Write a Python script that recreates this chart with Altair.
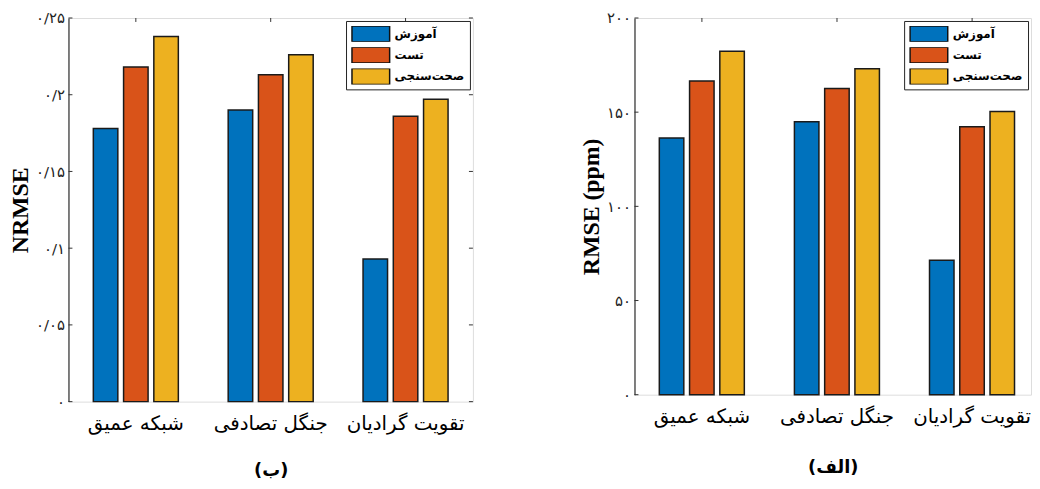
import altair as alt
import pandas as pd

models = ["شبکه عمیق", "جنگل تصادفی", "تقویت گرادیان"]
sets = ["آموزش", "تست", "صحت‌سنجی"]
colors = ["#0072BD", "#D95319", "#EDB120"]

nrmse_train = [0.178, 0.190, 0.093]
nrmse_test = [0.218, 0.213, 0.186]
nrmse_val = [0.238, 0.226, 0.197]
nrmse_ticks = [0, 0.05, 0.1, 0.15, 0.2, 0.25]

rmse_train = [136.3, 144.9, 71.4]
rmse_test = [166.6, 162.6, 142.3]
rmse_val = [182.4, 173.0, 150.3]
rmse_ticks = [0, 50, 100, 150, 200]


def make_df(train, test, val):
    rows = []
    for i, m in enumerate(models):
        for s, vals in zip(sets, [train, test, val]):
            rows.append({"model": m, "set": s, "value": vals[i]})
    return pd.DataFrame(rows)


persian_digits = "۰۱۲۳۴۵۶۷۸۹"
label_expr = "datum.label"
for d in range(10):
    label_expr = f"replace({label_expr}, regexp('{d}', 'g'), '{persian_digits[d]}')"
label_expr = f"replace({label_expr}, '.', '/')"

FRAME = "#333333"
TICK = 4


def panel(df, domain, ticks, fmt, ytitle, caption, width, height, xscale,
          cap_pad, right_ticks=True):
    ys = alt.Scale(domain=domain, nice=False, zero=True)
    bars = alt.Chart(df).mark_bar(stroke="#1a1a1a", strokeWidth=1.5).encode(
        x=alt.X(
            "model:N", sort=models, scale=xscale,
            axis=alt.Axis(
                title=caption, orient="bottom", labelAngle=0,
                labelFont="DejaVu Sans", labelFontSize=20, labelColor="black",
                labelPadding=12, labelLimit=300, ticks=False, domain=False,
                titleFont="DejaVu Sans", titleFontSize=18, titleFontWeight="bold",
                titleColor="black", titlePadding=cap_pad,
            ),
        ),
        xOffset=alt.XOffset("set:N", sort=sets,
                            scale=alt.Scale(paddingInner=0.19, paddingOuter=0.095)),
        y=alt.Y(
            "value:Q", scale=ys,
            axis=alt.Axis(
                values=ticks, format=fmt, labelExpr=label_expr, title=ytitle,
                titleFont="Liberation Serif", titleFontSize=24, titleFontWeight="bold",
                titleColor="black", titlePadding=3,
                labelFont="DejaVu Sans", labelFontSize=15, labelColor="#222",
                tickSize=0, labelPadding=4, grid=False,
                domainColor=FRAME, domainWidth=1.2,
            ),
        ),
        color=alt.Color(
            "set:N", sort=sets,
            scale=alt.Scale(domain=sets, range=colors),
            legend=alt.Legend(
                title=None, orient="top-right", offset=3,
                fillColor="white", strokeColor="#222", padding=5,
                symbolType="M-1,-0.42H1V0.42H-1Z", symbolSize=1444,
                clipHeight=16, rowPadding=5.5,
                symbolStrokeColor="#111", symbolStrokeWidth=1.5,
                labelFont="DejaVu Sans", labelFontSize=12, labelFontWeight="bold",
                labelColor="black", labelOffset=4,
            ),
        ),
    )
    tick_df = pd.DataFrame({"t": ticks})
    model_df = pd.DataFrame({"model": models})
    layers = [bars]
    layers.append(
        alt.Chart(tick_df).mark_rule(color=FRAME, strokeWidth=1).encode(
            y=alt.Y("t:Q", scale=ys), x=alt.value(0), x2=alt.value(TICK))
    )
    if right_ticks:
        layers.append(
            alt.Chart(tick_df).mark_rule(color=FRAME, strokeWidth=1).encode(
                y=alt.Y("t:Q", scale=ys), x=alt.value(width - TICK), x2=alt.value(width))
        )
    layers.append(
        alt.Chart(model_df).mark_rule(color=FRAME, strokeWidth=1).encode(
            x=alt.X("model:N", sort=models, scale=xscale),
            y=alt.value(0), y2=alt.value(TICK))
    )
    return alt.layer(*layers).properties(width=width, height=height)


left_xscale = alt.Scale(paddingInner=0.327, paddingOuter=0.163)
# right panel is cropped on its right side in the original figure
right_xscale = alt.Scale(paddingInner=0.327, paddingOuter=0.131, align=0.62)

left = panel(make_df(nrmse_train, nrmse_test, nrmse_val), [0, 0.25], nrmse_ticks,
             ".2~f", "NRMSE", "(ب)", 408, 387, left_xscale, 29)
right = panel(make_df(rmse_train, rmse_test, rmse_val), [0, 200], rmse_ticks,
              "d", "RMSE (ppm)", "(الف)", 400, 380, right_xscale, 33,
              right_ticks=False)

chart = (
    alt.hconcat(left, right, spacing=106)
    .resolve_scale(color="independent")
    .resolve_legend(color="independent")
    .properties(padding={"left": 0, "top": 0, "right": 0, "bottom": 0})
    .configure_view(stroke="#555555", strokeWidth=1)
    .configure(background="white")
)

chart.save("out.html", embed_options={"renderer": "svg", "actions": False})
